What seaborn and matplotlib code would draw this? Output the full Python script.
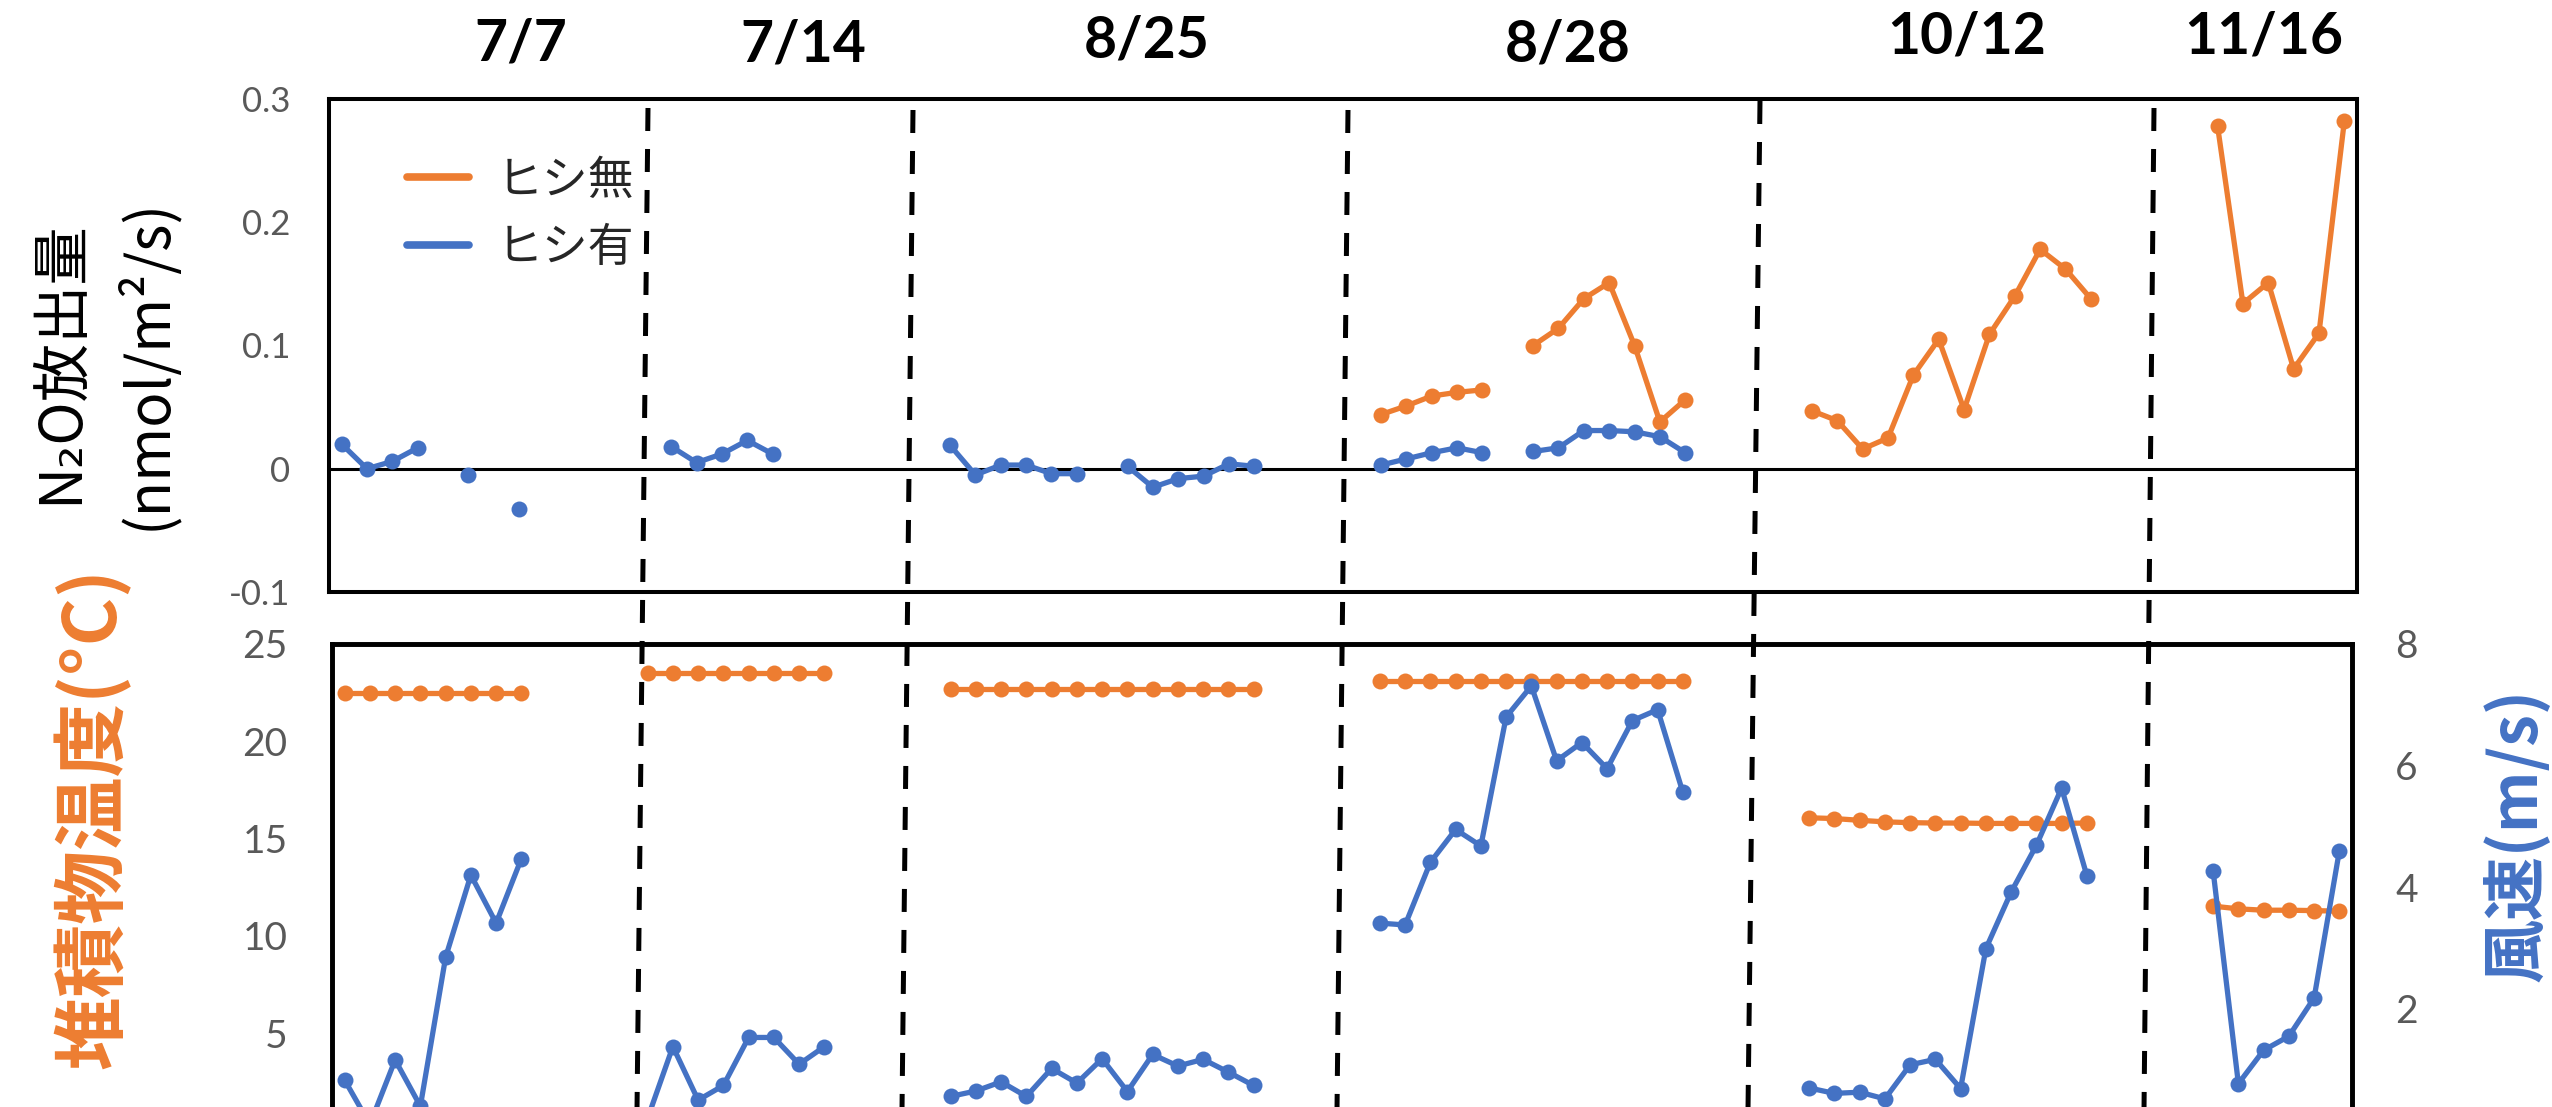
import matplotlib
matplotlib.use("Agg")
import matplotlib.pyplot as plt
import numpy as np
import pandas as pd
import seaborn as sns
from matplotlib.lines import Line2D

sns.set_theme(style="white")
plt.rcParams["font.family"] = ["Lato", "Noto Sans CJK JP", "DejaVu Sans"]
plt.rcParams["axes.unicode_minus"] = False

ORANGE = "#ED7D31"
BLUE = "#4472C4"
TICK_GREY = "#595959"
CJK = ["Noto Sans CJK JP", "DejaVu Sans"]

# ---------------------------------------------------------------- data
# 80 sampling slots along a shared categorical axis; None = no measurement
dates = ["7/7", "7/14", "8/25", "8/28", "10/12", "11/16"]
series_names = ["ヒシ無", "ヒシ有"]

n2o_without = (
    [None] * 41
    + [0.044, 0.051, 0.059, 0.062, 0.064, None,
       0.100, 0.114, 0.138, 0.151, 0.100, 0.038, 0.056]
    + [None] * 4
    + [0.047, 0.039, 0.016, 0.025, 0.076, 0.105, 0.048, 0.109,
       0.140, 0.178, 0.162, 0.138]
    + [None] * 4
    + [0.278, 0.134, 0.151, 0.081, 0.110, 0.282]
)

n2o_with = (
    [0.020, 0.000, 0.006, 0.017, None, -0.005, None, -0.033]
    + [None] * 5
    + [0.018, 0.005, 0.012, 0.023, 0.012]
    + [None] * 6
    + [0.019, -0.005, 0.003, 0.003, -0.004, -0.004, None,
       0.002, -0.015, -0.008, -0.006, 0.004, 0.002]
    + [None] * 4
    + [0.003, 0.008, 0.013, 0.017, 0.013, None,
       0.014, 0.017, 0.031, 0.031, 0.030, 0.026, 0.013]
    + [None] * 26
)

sediment_temp = (
    [22.5] * 8
    + [None] * 4
    + [23.5] * 8
    + [None] * 4
    + [22.7] * 13
    + [None] * 4
    + [23.1] * 13
    + [None] * 4
    + [16.07, 16.03, 15.94, 15.86, 15.82, 15.80, 15.80, 15.78,
       15.78, 15.78, 15.78, 15.80]
    + [None] * 4
    + [11.53, 11.39, 11.32, 11.32, 11.30, 11.27]
)

wind_speed = (
    [0.83, 0.10, 1.16, 0.40, 2.85, 4.20, 3.41, 4.47]
    + [None] * 4
    + [0.20, 1.38, 0.50, 0.74, 1.53, 1.53, 1.09, 1.38]
    + [None] * 4
    + [0.56, 0.65, 0.80, 0.56, 1.02, 0.78, 1.18, 0.64, 1.25, 1.06,
       1.17, 0.96, 0.74]
    + [None] * 4
    + [3.41, 3.38, 4.41, 4.95, 4.68, 6.80, 7.31, 6.08, 6.38, 5.95,
       6.74, 6.92, 5.56]
    + [None] * 4
    + [0.70, 0.61, 0.63, 0.52, 1.08, 1.17, 0.69, 2.99, 3.92, 4.69,
       5.63, 4.19]
    + [None] * 4
    + [4.27, 0.77, 1.32, 1.55, 2.18, 4.60]
)

n2o_ticks = [-0.1, 0, 0.1, 0.2, 0.3]
n2o_ticklabels = ["-0.1", "0", "0.1", "0.2", "0.3"]
temp_range = (0, 25)
wind_range = (0, 8)
# the zero ticks of the lower panel fall below the visible canvas
temp_ticks = [5, 10, 15, 20, 25]
wind_ticks = [2, 4, 6, 8]


def runs(values, name):
    """Long table with one id per unbroken run of measurements."""
    rows, run, inside = [], 0, False
    for slot, v in enumerate(values):
        if v is None:
            inside = False
            continue
        if not inside:
            run += 1
            inside = True
        rows.append({"slot": slot, "value": v, "run": f"{name}{run}"})
    return pd.DataFrame(rows)


# ---------------------------------------------------------------- layout
W, H = 2552, 1107
fig = plt.figure(figsize=(W / 100, H / 100), dpi=100)


def box(x0, y0, x1, y1):
    return [x0 / W, 1 - y1 / H, (x1 - x0) / W, (y1 - y0) / H]


ax_top = fig.add_axes(box(329, 99, 2357, 592))
ax_bot = fig.add_axes(box(332, 644, 2352, 1130.5))
ax_wind = ax_bot.twinx()

n_slots = len(sediment_temp)
line_kw = dict(estimator=None, sort=False, legend=False, marker="o",
               markersize=11.5, markeredgewidth=0, linewidth=3.8)

# upper panel: N2O flux
ax_top.axhline(0, color="black", linewidth=2.2, zorder=1)
sns.lineplot(data=runs(n2o_without, "a"), x="slot", y="value", units="run",
             color=ORANGE, ax=ax_top, zorder=3, **line_kw)
sns.lineplot(data=runs(n2o_with, "b"), x="slot", y="value", units="run",
             color=BLUE, ax=ax_top, zorder=4, **line_kw)
ax_top.set_xlim(-0.5, n_slots - 0.5)
ax_top.set_ylim(-0.1, 0.3)
ax_top.set_yticks(n2o_ticks)
ax_top.set_yticklabels(n2o_ticklabels)

# lower panel: sediment temperature (left) and wind speed (right)
sns.lineplot(data=runs(sediment_temp, "t"), x="slot", y="value", units="run",
             color=ORANGE, ax=ax_bot, zorder=3, **line_kw)
sns.lineplot(data=runs(wind_speed, "w"), x="slot", y="value", units="run",
             color=BLUE, ax=ax_wind, zorder=3, **line_kw)
ax_bot.set_xlim(-0.5, n_slots - 0.5)
ax_bot.set_ylim(*temp_range)
ax_bot.set_yticks(temp_ticks)
ax_wind.set_ylim(*wind_range)
ax_wind.set_yticks(wind_ticks)

for ax in (ax_top, ax_bot, ax_wind):
    ax.set_xlabel("")
    ax.set_ylabel("")
    ax.set_xticks([])
    ax.grid(False)
    ax.set_facecolor("none")

ax_top.tick_params(axis="y", length=0, pad=28, labelsize=25, labelcolor=TICK_GREY)
ax_bot.tick_params(axis="y", length=0, pad=32, labelsize=28, labelcolor=TICK_GREY)
ax_wind.tick_params(axis="y", length=0, pad=31, labelsize=28, labelcolor=TICK_GREY)

for sp in ax_top.spines.values():
    sp.set_color("black")
    sp.set_linewidth(2.9)
for ax in (ax_bot, ax_wind):
    for sp in ax.spines.values():
        sp.set_color("black")
        sp.set_linewidth(3.3)

# legend of the flux panel
handles = [Line2D([], [], color=ORANGE, linewidth=5.5),
           Line2D([], [], color=BLUE, linewidth=5.5)]
ax_top.legend(handles, series_names, loc="upper left",
              bbox_to_anchor=(407 / W, 1 - 156 / H),
              bbox_transform=fig.transFigure, frameon=False,
              prop={"family": CJK, "size": 33}, handlelength=1.35,
              handletextpad=0.6, labelspacing=0.42, borderpad=0,
              borderaxespad=0)

# campaign dates above the panels
title_xy = [(521, 44), (803, 45), (1147, 41), (1568, 45), (1967, 37), (2264, 37)]
for label, (x, y) in zip(dates, title_xy):
    fig.text(x / W, 1 - y / H, label, ha="center", va="center",
             fontsize=41, fontweight="bold", color="black", family="Lato")

# dashed separators between campaigns (hand-drawn, slightly slanted)
separators = [((648, 108), (637, 1110)), ((913, 110), (902, 1110)),
              ((1348, 110), (1337, 1110)), ((1760, 101), (1748, 1110)),
              ((2154, 108), (2144, 1110))]
for (x0, y0), (x1, y1) in separators:
    fig.add_artist(Line2D([x0 / W, x1 / W], [1 - y0 / H, 1 - y1 / H],
                          transform=fig.transFigure, color="black",
                          linewidth=3.6, dashes=(4.6, 3.6), zorder=5))

# axis titles
fig.text(60 / W, 1 - 362 / H, "N₂O放出量", rotation=90, ha="center",
         va="center", fontsize=42, family=CJK, color="black")
fig.text(147 / W, 1 - 364 / H, "(nmol/m²/s)", rotation=90, ha="center",
         va="center", fontsize=42, family=CJK, color="black")
fig.text(93 / W, 1 - 818 / H, "堆積物温度(°C)", rotation=90, ha="center",
         va="center", fontsize=53, fontweight="bold", family=CJK, color=ORANGE)
fig.text(2517 / W, 1 - 835 / H, "風速(m/s)", rotation=90, ha="center",
         va="center", fontsize=46, fontweight="bold", family=CJK, color=BLUE)

fig.savefig("out.png", dpi=100, facecolor="white")
